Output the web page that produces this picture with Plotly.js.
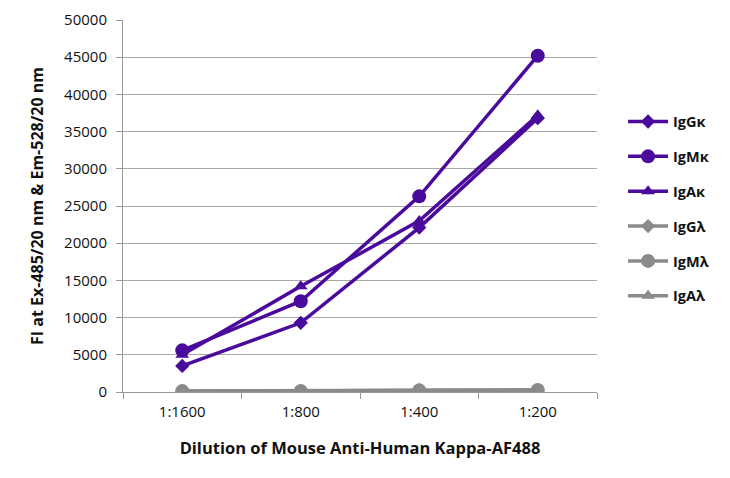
<!DOCTYPE html>
<html>
<head>
<meta charset="utf-8">
<script src="https://cdn.plot.ly/plotly-3.0.1.min.js"></script>
<style>html,body{margin:0;padding:0;background:#fff;}#chart{width:730px;height:478px;}</style>
</head>
<body>
<div id="chart"></div>
<script>
const categories = ["1:1600", "1:800", "1:400", "1:200"];
const seriesNames = ["IgGκ", "IgMκ", "IgAκ", "IgGλ", "IgMλ", "IgAλ"];
const IgGk = [3500, 9300, 22100, 36800];
const IgMk = [5600, 12200, 26300, 45200];
const IgAk = [5000, 14200, 23000, 37200];
const IgGl = [100, 120, 200, 250];
const IgMl = [120, 150, 220, 280];
const IgAl = [100, 130, 210, 260];
const yTicks = [0, 5000, 10000, 15000, 20000, 25000, 30000, 35000, 40000, 45000, 50000];

const values = [IgGk, IgMk, IgAk, IgGl, IgMl, IgAl];
const symbols = ["diamond", "circle", "triangle-up", "diamond", "circle", "triangle-up"];
const sizes = [11, 14, 12, 11, 14, 12];
const purple = "#4a0a9c";
const gray = "#8a8a8a";
const colors = [purple, purple, purple, gray, gray, gray];

const traces = values.map((v, i) => ({
  x: categories,
  y: v,
  name: seriesNames[i],
  legendgroup: "g" + i,
  type: "scatter",
  mode: "lines+markers",
  line: {color: colors[i], width: 3.5},
  marker: {symbol: symbols[i], size: sizes[i], color: colors[i]}
}));

const layout = {
  width: 730, height: 478,
  margin: {l: 123, r: 133, t: 20, b: 86},
  paper_bgcolor: "#fff", plot_bgcolor: "#fff",
  font: {family: "Open Sans, sans-serif", color: "#111"},
  showlegend: true,
  legend: {
    x: 1.055, y: 0.77, xanchor: "left", yanchor: "top",
    font: {size: 14.5, color: "#111", family: "Open Sans, sans-serif", weight: "bold"},
    tracegroupgap: 13, itemwidth: 40
  },
  xaxis: {
    type: "category",
    range: [-0.5, 3.5],
    showgrid: false,
    showline: true, linecolor: "#999", linewidth: 1,
    ticks: "outside", tickson: "boundaries", ticklen: 6, tickcolor: "#999",
    tickfont: {size: 15, color: "#111"},
    ticklabelstandoff: 6,
    title: {text: "<b>Dilution of Mouse Anti-Human Kappa-AF488</b>", font: {size: 16.5, color: "#111"}, standoff: 22},
    zeroline: false
  },
  yaxis: {
    range: [0, 50000],
    tickvals: yTicks,
    ticktext: yTicks.map(String),
    showgrid: true, gridcolor: "#a8a8a8", gridwidth: 1,
    showline: true, linecolor: "#999", linewidth: 1,
    ticks: "outside", ticklen: 6, tickcolor: "#999",
    tickfont: {size: 15, color: "#111"},
    ticklabelstandoff: 6,
    title: {text: "<b>FI at Ex-485/20 nm &amp; Em-528/20 nm</b>", font: {size: 16, color: "#111"}, standoff: 16},
    zeroline: false
  }
};

Plotly.newPlot("chart", traces, layout, {displayModeBar: false, staticPlot: true});
</script>
</body>
</html>
